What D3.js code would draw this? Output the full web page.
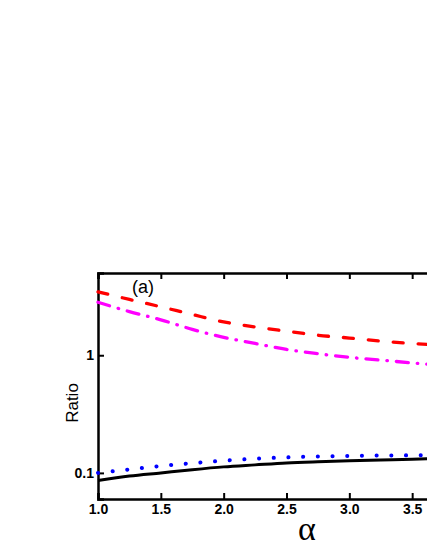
<!DOCTYPE html>
<html>
<head>
<meta charset="utf-8">
<script src="https://cdn.jsdelivr.net/npm/d3@7"></script>
<style>
  body { margin: 0; background: #fff; }
  svg { display: block; }
</style>
</head>
<body>
<div id="chart"></div>
<script>
// values (ratio vs alpha, log y)
const alphas = [1.0, 1.25, 1.5, 1.75, 2.0, 2.25, 2.5, 2.75, 3.0, 3.25, 3.5, 3.75];
const redDash = [3.46, 2.98, 2.58, 2.22, 1.92, 1.74, 1.60, 1.48, 1.40, 1.32, 1.26, 1.21];
const magentaDashDot = [2.82, 2.35, 2.0, 1.66, 1.42, 1.26, 1.12, 1.03, 0.96, 0.91, 0.86, 0.82];
const blueDot = [0.100, 0.107, 0.1145, 0.121, 0.127, 0.132, 0.1355, 0.138, 0.1395, 0.1405, 0.141, 0.1415];
const blackSolid = [0.086, 0.094, 0.100, 0.1065, 0.1125, 0.117, 0.1215, 0.1245, 0.127, 0.129, 0.1305, 0.133];

const xMajor = [1.0, 1.5, 2.0, 2.5, 3.0, 3.5];
const yMajor = [0.1, 1];
const yMinor = [0.07, 0.08, 0.09, 0.2, 0.3, 0.4, 0.5, 0.6, 0.7, 0.8, 0.9, 2, 3, 4, 5];

const width = 427;
const height = 553;
const plot = { left: 98, top: 273, right: 475, bottom: 499 };

const svg = d3.select("#chart").append("svg")
    .attr("width", width)
    .attr("height", height)
    .style("font-family", "'Liberation Sans', Arial, sans-serif");

const x = d3.scaleLinear().domain([1.0, 4.0]).range([plot.left, plot.right]);
const y = d3.scaleLog().domain([0.06, 5]).range([plot.bottom, plot.top]);

const xMinor = d3.range(10, 41).map(d => d / 10).filter(d => d % 0.5 !== 0);

// bottom axis, ticks inward
const xAxisGroup = svg.append("g").attr("transform", `translate(0, ${plot.bottom})`);
xAxisGroup.call(d3.axisBottom(x).tickValues(xMinor).tickSize(-3).tickFormat(""));
xAxisGroup.call(d3.axisBottom(x).tickValues(xMajor).tickSize(-6).tickFormat(d3.format(".1f")));

const topGroup = svg.append("g").attr("transform", `translate(0, ${plot.top})`);
topGroup.call(d3.axisTop(x).tickValues(xMinor).tickSize(-3).tickFormat(""));
topGroup.call(d3.axisTop(x).tickValues(xMajor).tickSize(-6).tickFormat(""));

const yAxisGroup = svg.append("g").attr("transform", `translate(${plot.left}, 0)`);
yAxisGroup.call(d3.axisLeft(y).tickValues(yMinor).tickSize(-3).tickFormat(""));
yAxisGroup.call(d3.axisLeft(y).tickValues(yMajor).tickSize(-6).tickFormat(d => d < 1 ? "0.1" : "1"));

svg.selectAll(".domain").attr("stroke", "#000").attr("stroke-width", 2.5);
svg.selectAll(".tick line").attr("stroke", "#000").attr("stroke-width", 2);
svg.selectAll(".tick text")
    .attr("fill", "#000")
    .attr("font-size", 14)
    .attr("font-weight", "bold")
    .attr("font-family", "'Liberation Sans', Arial, sans-serif");
xAxisGroup.selectAll(".tick text").attr("y", 5).attr("dy", "0.71em");
yAxisGroup.selectAll(".tick text").attr("x", -4);

// curves
const series = [
    { values: blackSolid, color: "#000000", dash: null, w: 3 },
    { values: blueDot, color: "#0000ff", dash: "0.1,14.6", w: 4 },
    { values: magentaDashDot, color: "#ff00ff", dash: "12,9,0.5,9", w: 3.3 },
    { values: redDash, color: "#ff0000", dash: "10,15", w: 3.3 }
];

const line = d3.line()
    .x(d => x(d.a))
    .y(d => y(d.v))
    .curve(d3.curveMonotoneX);

const lineGroup = svg.append("g");
series.forEach(s => {
    const pts = alphas.map((a, i) => ({ a: a, v: s.values[i] }));
    lineGroup.append("path")
        .datum(pts)
        .attr("fill", "none")
        .attr("stroke", s.color)
        .attr("stroke-width", s.w)
        .attr("stroke-linecap", s.dash ? "round" : "butt")
        .attr("stroke-dasharray", s.dash)
        .attr("d", line);
});

// labels
svg.append("text")
    .attr("transform", "translate(78, 403) rotate(-90)")
    .attr("text-anchor", "middle")
    .style("font-size", "17px")
    .text("Ratio");

svg.append("text")
    .attr("x", 143)
    .attr("y", 293)
    .attr("text-anchor", "middle")
    .style("font-size", "18px")
    .text("(a)");

svg.append("text")
    .attr("x", 307)
    .attr("y", 540)
    .attr("text-anchor", "middle")
    .style("font-family", "'Liberation Serif', 'DejaVu Serif', serif")
    .style("font-size", "34px")
    .text("α");
</script>
</body>
</html>
